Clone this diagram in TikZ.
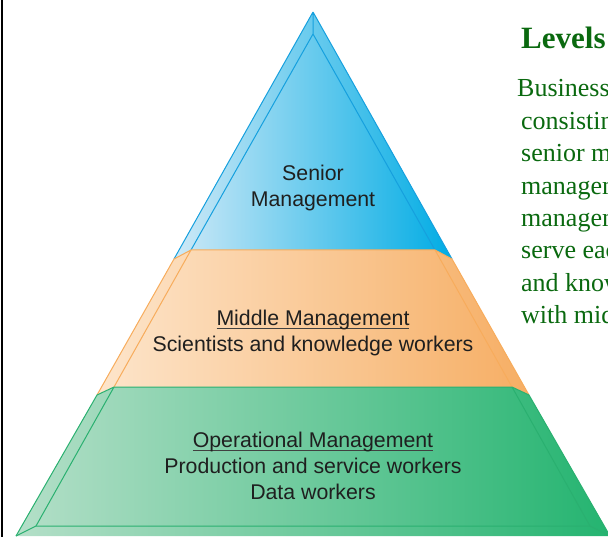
\documentclass[tikz,border=0pt]{standalone}
\usepackage{fontspec}
\setmainfont{Liberation Serif}
\setsansfont{Liberation Sans}
\definecolor{skyL}{RGB}{207,233,247}
\definecolor{skyR}{RGB}{0,172,228}
\definecolor{skyE}{RGB}{22,160,222}
\definecolor{peachL}{RGB}{253,229,203}
\definecolor{peachR}{RGB}{246,174,100}
\definecolor{peachE}{RGB}{247,172,92}
\definecolor{mintL}{RGB}{180,223,200}
\definecolor{mintR}{RGB}{36,180,112}
\definecolor{mintE}{RGB}{42,176,112}
\definecolor{textgreen}{RGB}{10,105,15}
\newcommand\levelhead[1]{\setbox0\hbox{#1}\rlap{\color{black!75}\rule[-3pt]{\wd0}{0.9pt}}\box0}
\begin{document}
\begin{tikzpicture}
  [x=1pt,y=-1pt,
   level/.style={font=\sffamily\fontsize{21.3}{26}\selectfont, text=black!88, align=center},
   edge/.style={line width=1pt, line join=round},
   heading/.style={font=\bfseries\fontsize{31}{36}\selectfont, text=textgreen, anchor=base west, inner sep=0pt},
   bodytext/.style={font=\fontsize{26}{32}\selectfont, text=textgreen, anchor=base west, inner sep=0pt}]
  \useasboundingbox (0,0) rectangle (608,537);
  \begin{scope}
    \clip (0,0) rectangle (608,537);
    % corners: outer (o) and front face (i), left and right
    \coordinate (ol0) at (313,12);  \coordinate (or0) at (313,12);
    \coordinate (il0) at (313,34);  \coordinate (ir0) at (313,34);
    \coordinate (ol1) at (174,259); \coordinate (or1) at (452,259);
    \coordinate (il1) at (191,250); \coordinate (ir1) at (435,250);
    \coordinate (ol2) at (97,395);  \coordinate (or2) at (529,395);
    \coordinate (il2) at (114,387); \coordinate (ir2) at (512,387);
    \coordinate (ol3) at (16,536);  \coordinate (or3) at (610,536);
    \coordinate (il3) at (36,526);  \coordinate (ir3) at (590,526);

    \foreach \col [count=\k, evaluate=\k as \j using int(\k-1)] in {sky, peach, mint} {
      \shade[left color=\col L, right color=\col R]
        (ol\j) -- (il\j) -- (ir\j) -- (or\j) -- (or\k) -- (ol\k) -- cycle;
      \draw[edge, \col E] (ol\j) -- (il\j) -- (ir\j) -- (or\j)
        (ol\j) -- (ol\k) (or\j) -- (or\k) (il\j) -- (il\k) (ir\j) -- (ir\k);
    }
    \draw[edge, mintE] (ol3) -- (il3) -- (ir3) -- (or3);

    \node[level] (senior) at (313,188) {Senior\\Management};
    \node[level] (middle) at (313,333) {\levelhead{Middle Management}\\Scientists and knowledge workers};
    \node[level] (operational) at (313,466) {\levelhead{Operational Management}\\Production and service workers\\Data workers};

    \node[heading] (title) at (521,49) {Levels};
    \node[bodytext] (line1) at (517,97) {Business};
    \foreach \txt [count=\i from 2] in {consistin, senior m, managem, managem, serve eac, and know, with mid}
      \node[bodytext] (line\i) at (521,{97+32.4*(\i-1)}) {\txt};
  \end{scope}
  \draw[line width=2.5pt] (2,0) -- (2,537);
\end{tikzpicture}
\end{document}
